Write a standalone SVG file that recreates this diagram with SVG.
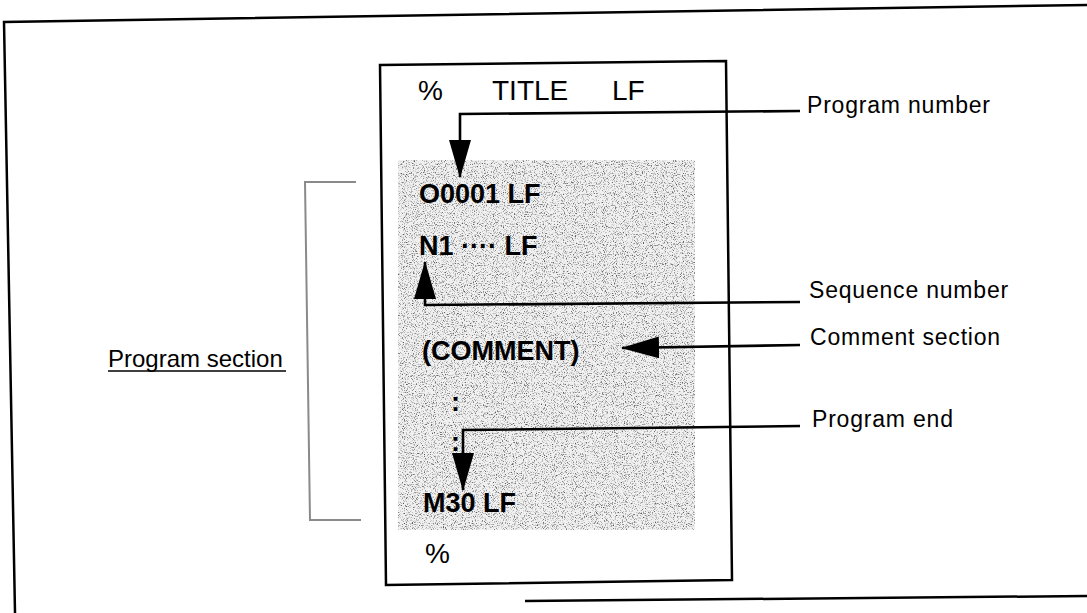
<svg xmlns="http://www.w3.org/2000/svg" width="1087" height="613" viewBox="0 0 1087 613">
  <defs>
    <style>
      .frame { fill: none; stroke: #000; stroke-width: 2.5; stroke-linejoin: miter; }
      .conn { fill: none; stroke: #000; stroke-width: 2.6; }
      .bracket { fill: none; stroke: #8a8a8a; stroke-width: 2; }
      .code { font-family: "Liberation Sans", Arial, sans-serif; font-size: 28px; fill: #000; }
      .codeb { font-family: "Liberation Sans", Arial, sans-serif; font-size: 27px; font-weight: bold; fill: #000; }
      .label { font-family: "Liberation Sans", Arial, sans-serif; font-size: 23px; letter-spacing: 0.8px; fill: #000; }
      .side { font-family: "Liberation Sans", Arial, sans-serif; font-size: 24px; fill: #000; }
    </style>
    <marker id="arrow" viewBox="0 0 38 22" markerUnits="userSpaceOnUse" markerWidth="38" markerHeight="22" refX="37" refY="11" orient="auto">
      <path d="M0,0 L38,11 L0,22 Z" fill="#000"/>
    </marker>
    <filter id="speckle" x="0" y="0" width="100%" height="100%" color-interpolation-filters="sRGB">
      <feTurbulence type="fractalNoise" baseFrequency="0.9" numOctaves="2" seed="7" result="noise"/>
      <feColorMatrix in="noise" type="matrix" values="0 0 0 0 0.35  0 0 0 0 0.35  0 0 0 0 0.35  3.4 0 0 0 -1.75" result="dots"/>
      <feComposite in="dots" in2="SourceAlpha" operator="in" result="clipped"/>
      <feMerge>
        <feMergeNode in="SourceGraphic"/>
        <feMergeNode in="clipped"/>
      </feMerge>
    </filter>
  </defs>

  <rect x="0" y="0" width="1087" height="613" fill="#fff"/>

  <g id="outer-frame">
    <polyline class="frame" points="1087,5 4,22 15,613"/>
    <line class="frame" x1="525" y1="601" x2="1087" y2="596"/>
  </g>

  <g id="program-listing">
    <polygon class="frame" points="380,65 726,61 732,580 386,585"/>
    <rect x="398" y="160" width="297" height="370" fill="#f1f1f1" filter="url(#speckle)"/>
    <text class="code" x="418" y="100">%</text>
    <text class="code" x="492" y="100">TITLE</text>
    <text class="code" x="612" y="100">LF</text>
    <text class="codeb" x="419" y="203">O0001 LF</text>
    <text class="codeb" x="419" y="255">N1 ···· LF</text>
    <text class="codeb" x="422" y="360">(COMMENT)</text>
    <text class="codeb" x="451" y="411">:</text>
    <text class="codeb" x="451" y="451">:</text>
    <text class="codeb" x="423" y="512">M30 LF</text>
    <text class="code" x="425" y="563">%</text>
  </g>

  <g id="program-section">
    <polyline class="bracket" points="356,182 305,182 310,520 361,520"/>
    <text class="side" x="108" y="367">Program section</text>
    <line x1="108" y1="371" x2="286" y2="371" stroke="#000" stroke-width="1.5"/>
  </g>

  <g id="label-program-number">
    <text class="label" x="807" y="113">Program number</text>
  </g>
  <g id="label-sequence-number">
    <text class="label" x="809" y="298">Sequence number</text>
  </g>
  <g id="label-comment-section">
    <text class="label" x="810" y="345">Comment section</text>
  </g>
  <g id="label-program-end">
    <text class="label" x="812" y="427">Program end</text>
  </g>

  <g id="connectors">
    <path class="conn" d="M800,111 L460,114 L460,177" marker-end="url(#arrow)"/>
    <path class="conn" d="M800,302 L425,305 L425,262" marker-end="url(#arrow)"/>
    <path class="conn" d="M800,345 L622,348" marker-end="url(#arrow)"/>
    <path class="conn" d="M800,426 L463,430 L463,490" marker-end="url(#arrow)"/>
  </g>
</svg>
